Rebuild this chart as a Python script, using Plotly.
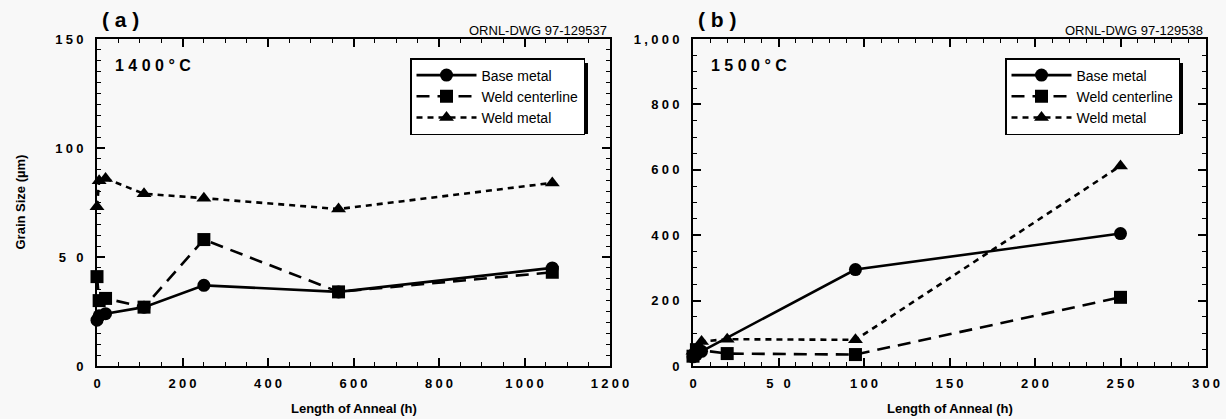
import plotly.graph_objects as go

# ---- data: grain size (um) vs anneal time (h) ----
# 1400 C anneals
t_1400 = [0, 5, 20, 110, 250, 565, 1065]
base_1400 = [21, 23, 24, 27, 37, 34, 45]
center_1400 = [41, 30, 31, 27, 58, 34, 43]
weld_1400 = [73, 85, 86, 79, 77, 72, 84]

# 1500 C anneals
t_1500_base = [0, 2, 5, 95, 250]
base_1500 = [28, 35, 45, 295, 405]
t_1500_center = [0, 2, 20, 95, 250]
center_1500 = [30, 50, 38, 35, 210]
t_1500_weld = [0, 5, 20, 95, 250]
weld_1500 = [45, 75, 82, 80, 612]

series_names = ["Base metal", "Weld centerline", "Weld metal"]

# tick labels
xa_vals = [0, 200, 400, 600, 800, 1000, 1200]
xa_text = ["0", "200", "400", "600", "800", "1000", "1200"]
ya_vals = [0, 50, 100, 150]
ya_text = ["0", "5 0", "100", "150"]
xb_vals = [0, 50, 100, 150, 200, 250, 300]
xb_text = ["0", "5 0", "100", "150", "200", "250", "300"]
yb_vals = [0, 200, 400, 600, 800, 1000]
yb_text = ["0", "200", "400", "600", "800", "1,000"]

W, H = 1226, 419
BG = "#f8f8f8"
FONT = "Liberation Sans"
SP = "\u2005"  # letter spacing used in the bold labels


def spaced(t):
    return SP.join(t)


styles = [
    dict(dash="solid", symbol="circle", size=13),
    dict(dash="13px,8px", symbol="square", size=13),
    dict(dash="6px,5px", symbol="triangle-up", size=13),
]

fig = go.Figure()


def add_series(x, y, k, xa, ya, legend):
    s = styles[k]
    fig.add_trace(go.Scatter(
        x=x, y=y, name=series_names[k], mode="lines+markers",
        xaxis=xa, yaxis=ya, legend=legend, cliponaxis=False,
        line=dict(color="black", width=2.6, dash=s["dash"]),
        marker=dict(color="black", symbol=s["symbol"], size=s["size"]),
    ))


add_series(t_1400, base_1400, 0, "x", "y", "legend")
add_series(t_1400, center_1400, 1, "x", "y", "legend")
add_series(t_1400, weld_1400, 2, "x", "y", "legend")
add_series(t_1500_base, base_1500, 0, "x2", "y2", "legend2")
add_series(t_1500_center, center_1500, 1, "x2", "y2", "legend2")
add_series(t_1500_weld, weld_1500, 2, "x2", "y2", "legend2")

# panel placement in pixels
L1, R1 = 97, 610
L2, R2 = 693, 1206
TOP, BOT = 39, 366
dom_y = [1 - BOT / H, 1 - TOP / H]

axis_common = dict(
    showline=True, linecolor="black", linewidth=2, mirror="allticks",
    ticks="inside", ticklen=8, tickwidth=1.6, tickcolor="black",
    showgrid=False, zeroline=False, automargin=False,
    tickfont=dict(family=FONT, size=13, color="black", weight="bold"),
)
minor_common = dict(ticks="inside", ticklen=4, tickwidth=1.2, tickcolor="black", showgrid=False)


def ticks_for(vals, text, minor_step, standoff):
    return dict(
        tickmode="linear", tick0=vals[0], dtick=vals[1] - vals[0],
        labelalias={str(v): spaced(t) for v, t in zip(vals, text)},
        minor=dict(minor_common, tick0=vals[0], dtick=minor_step),
        range=[vals[0], vals[-1]], ticklabelstandoff=standoff,
    )


fig.update_layout(
    width=W, height=H,
    margin=dict(l=0, r=0, t=0, b=0),
    paper_bgcolor=BG, plot_bgcolor=BG,
    font=dict(family=FONT, color="black"),
    xaxis=dict(axis_common, domain=[L1 / W, R1 / W], anchor="y",
               **ticks_for(xa_vals, xa_text, 50, 4)),
    yaxis=dict(axis_common, domain=dom_y, anchor="x",
               **ticks_for(ya_vals, ya_text, 5, 9)),
    xaxis2=dict(axis_common, domain=[L2 / W, R2 / W], anchor="y2",
                **ticks_for(xb_vals, xb_text, 10, 4)),
    yaxis2=dict(axis_common, domain=dom_y, anchor="x2",
                **ticks_for(yb_vals, yb_text, 50, 9)),
)

legend_style = dict(
    xanchor="left", yanchor="top", bgcolor="white",
    bordercolor="black", borderwidth=1.5,
    font=dict(family=FONT, size=14, color="black"),
    itemwidth=60, tracegroupgap=0,
)
# legend boxes (left, top, right, bottom) in pixels
leg_boxes = [(410, 58, 584, 130), (1005, 58, 1179, 130)]
fig.update_layout(
    legend=dict(legend_style, x=leg_boxes[0][0] / W, y=1 - leg_boxes[0][1] / H),
    legend2=dict(legend_style, x=leg_boxes[1][0] / W, y=1 - leg_boxes[1][1] / H),
)

# drop shadows along the right and bottom edges of each legend box
for (x0, y0, x1, y1) in leg_boxes:
    fig.add_shape(type="rect", xref="paper", yref="paper", layer="above",
                  x0=(x1 - 1) / W, x1=(x1 + 4) / W,
                  y0=1 - (y1 + 4) / H, y1=1 - (y0 + 5) / H,
                  fillcolor="black", line=dict(width=0))
    fig.add_shape(type="rect", xref="paper", yref="paper", layer="above",
                  x0=(x0 + 5) / W, x1=(x1 + 4) / W,
                  y0=1 - (y1 + 4) / H, y1=1 - (y1 - 1) / H,
                  fillcolor="black", line=dict(width=0))


def note(text, px, py, size, xanchor="left", bold=True, angle=0):
    fig.add_annotation(
        text=f"<b>{text}</b>" if bold else text,
        x=px / W, y=1 - py / H, xref="paper", yref="paper",
        xanchor=xanchor, yanchor="middle", showarrow=False, textangle=angle,
        font=dict(family=FONT, size=size, color="black"),
    )


note("( a )", 100, 20, 21)
note("( b )", 696, 20, 21)
note("1 4 0 0 ° C", 113, 65, 16)
note("1 5 0 0 ° C", 709, 65, 16)
note("ORNL-DWG 97-129537", 609, 31, 13, xanchor="right", bold=False)
note("ORNL-DWG 97-129538", 1205, 31, 13, xanchor="right", bold=False)
note("Length of Anneal (h)", (L1 + R1) / 2, 408, 13, xanchor="center")
note("Length of Anneal (h)", (L2 + R2) / 2, 408, 13, xanchor="center")
note("Grain Size (µm)", 20, (TOP + BOT) / 2, 13, xanchor="center", angle=-90)

fig.write_html("out.html")
